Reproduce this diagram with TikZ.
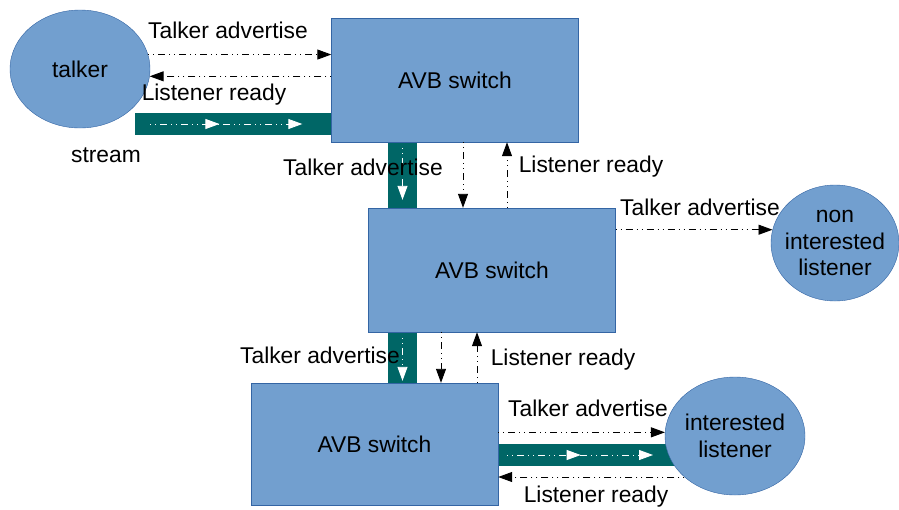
\documentclass[tikz,border=0pt]{standalone}
\usepackage{fontspec}
\setmainfont{Liberation Sans}
\usepackage{xcolor}
\usepackage{tikz}
\usetikzlibrary{arrows.meta,shapes.geometric,decorations.markings,backgrounds}
\definecolor{avbfill}{HTML}{729FCF}
\definecolor{avbline}{HTML}{3465A4}
\definecolor{streamx}{HTML}{006666}
\tikzset{
  sw/.style={draw=avbline,fill=avbfill,minimum width=247pt,minimum height=124pt,inner sep=0pt},
  ep/.style={ellipse,draw=avbline,fill=avbfill,align=center,inner sep=0pt},
  sig/.style={-{Triangle[length=14pt,width=10pt]},line width=0.9pt,dash pattern=on 1pt off 4pt on 1pt off 4pt on 7pt off 4pt},
  bar/.style={streamx,line width=22pt},
  flow/.style={white,line width=0.9pt,dash pattern=on 1pt off 4pt on 1pt off 4pt on 7pt off 4pt,-{Triangle[length=14pt,width=10pt]}},
  flowmid/.style={flow,postaction={decorate},decoration={markings,mark=at position 0.43 with {\arrow[white]{Triangle[length=14pt,width=10pt]}}}}
}

\begin{document}
\begin{tikzpicture}[x=1pt,y=-1pt,font=\fontsize{22.8}{26.5}\selectfont]
\useasboundingbox (0,0) rectangle (899,509);
\node[ep,minimum width=140pt,minimum height=118pt] (talker) at (80,69) {talker};
\node[sw] (sw1) at (455,80) {AVB switch};
\node[sw] (sw2) at (492,270) {AVB switch};
\node[sw,minimum height=122pt] (sw3) at (374.5,444) {AVB switch};
\node[ep,inner xsep=-10pt,minimum width=128pt,minimum height=116pt] (nonint) at (835,243) {non\\interested\\listener};
\node[ep,inner xsep=-2pt,minimum width=140pt,minimum height=118pt] (intl) at (735,436) {interested\\listener};
\coordinate (src) at (135,124);
\coordinate (sink) at (690,455);
% streams
\begin{scope}[on background layer]
\draw[bar] (src) -- (src -| sw1.west);
\draw[flowmid,shorten <=15pt,shorten >=29pt] (src) -- (src -| sw1.west);
\draw[bar,line width=29pt] ([xshift=-52.5pt]sw1.south) -- ([xshift=-52.5pt]sw1.south |- sw2.north);
\draw[flow,shorten <=6pt,shorten >=8pt] ([xshift=-52.5pt]sw1.south) -- ([xshift=-52.5pt]sw1.south |- sw2.north);
\draw[bar,line width=29pt] ([xshift=-89.5pt]sw2.south) -- ([xshift=-89.5pt]sw2.south |- sw3.north);
\draw[flow,shorten <=6pt,shorten >=2pt] ([xshift=-89.5pt]sw2.south) -- ([xshift=-89.5pt]sw2.south |- sw3.north);
\draw[bar] (sink -| sw3.east) -- (sink);
\draw[flowmid,shorten <=9pt,shorten >=37pt] (sink -| sw3.east) -- (sink);
\end{scope}
% signalling
\draw[sig] (talker.12) -- (talker.12 -| sw1.west);
\draw[sig] (talker.-6 -| sw1.west) -- (talker.-6);
\draw[sig] ([xshift=8pt]sw1.south) -- ([xshift=8pt]sw1.south |- sw2.north);
\draw[sig] ([xshift=52pt]sw1.south |- sw2.north) -- ([xshift=52pt]sw1.south);
\draw[sig] (nonint.168 -| sw2.east) -- (nonint.168);
\draw[sig] ([xshift=-51pt]sw2.south) -- ([xshift=-51pt]sw2.south |- sw3.north);
\draw[sig] ([xshift=-15pt]sw2.south |- sw3.north) -- ([xshift=-15pt]sw2.south);
\draw[sig] (intl.177 -| sw3.east) -- (intl.177);
\draw[sig] (intl.219) -- (intl.219 -| sw3.east);
% labels
\node (l1) at (228,30) {Talker advertise};
\node (l2) at (214,95) {Listener ready};
\node (l3) at (106,155) {stream};
\node (l4) at (363,167) {Talker advertise};
\node (l5) at (591,167) {Listener ready};
\node (l6) at (700,207) {Talker advertise};
\node (l7) at (320,355) {Talker advertise};
\node (l8) at (563,360) {Listener ready};
\node (l9) at (588,408) {Talker advertise};
\node (l10) at (596,497) {Listener ready};
\end{tikzpicture}
\end{document}
